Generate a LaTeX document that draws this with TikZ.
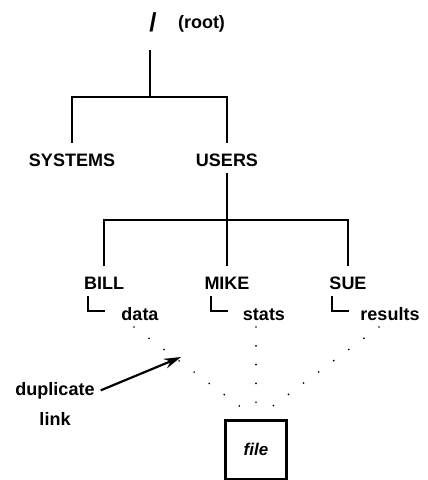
\documentclass[tikz,border=0pt]{standalone}
\usepackage{fontspec}
\setmainfont{Liberation Sans}
\usetikzlibrary{arrows.meta}

\begin{document}
\begin{tikzpicture}[x=1pt,y=-1pt,
    txt/.style={inner sep=0pt,anchor=base,font=\fontsize{18}{18}\selectfont\bfseries},
    tree/.style={line width=2pt},
    dots/.style={line width=1.9pt,line cap=round,dash pattern=on 0pt off 18.8pt,shorten >=6pt}]
    \useasboundingbox (0,0) rectangle (428,480);

    \node[txt,font=\fontsize{26}{26}\selectfont\bfseries] (root) at (153,31) {/};
    \node[txt,anchor=base west] (rootname) at ([xshift=21pt,yshift=3pt]root.base east) {(root)};
    \node[txt] (systems) at (72,166) {SYSTEMS};
    \node[txt] (users) at (227,166) {USERS};
    \coordinate (j1) at (150,97);
    \coordinate (j2) at (227,220);
    \draw[tree] ([xshift=-3pt,yshift=-19pt]root.base) -- (j1);
    \draw[tree] ([yshift=10pt]systems.north) |- (j1) -| ([yshift=10pt]users.north);
    \draw[tree] ([yshift=-7pt]users.base) -- (j2);

    \foreach \nm/\lbl/\x in {bill/BILL/104,mike/MIKE/227,sue/SUE/348}
    {
        \node[txt] (\nm) at (\x,289) {\lbl};
        \draw[tree] ([xshift=-16pt,yshift=-7pt]\nm.base) -- ++(0,15) -- ++(17,0);
    }
    \draw[tree] ([yshift=10pt]bill.north) |- (j2) -| ([yshift=10pt]sue.north);
    \draw[tree] (j2) -- ([yshift=10pt]mike.north);

    \node[draw,line width=3pt,minimum width=61pt,minimum height=59pt,inner sep=0pt,
        font=\fontsize{17}{17}\selectfont\bfseries\itshape] (file) at (256,449.5) {file};

    \foreach \nm/\x/\dx in {data/140/-6,stats/264/-8,results/390/-11}
    {
        \node[txt] (\nm) at (\x,320) {\nm};
        \draw[dots] ([xshift=\dx pt,yshift=-7pt]\nm.base) -- (file.north);
    }

    \node[txt] (dup) at (55,395) {duplicate};
    \node[txt] (link) at (55,425) {link};
    \coordinate (linktip) at (181,357);
    \draw[line width=2.2pt,-{Stealth[length=17pt,width=10pt]}] ([xshift=6pt]dup.east) -- (linktip);
\end{tikzpicture}
\end{document}
